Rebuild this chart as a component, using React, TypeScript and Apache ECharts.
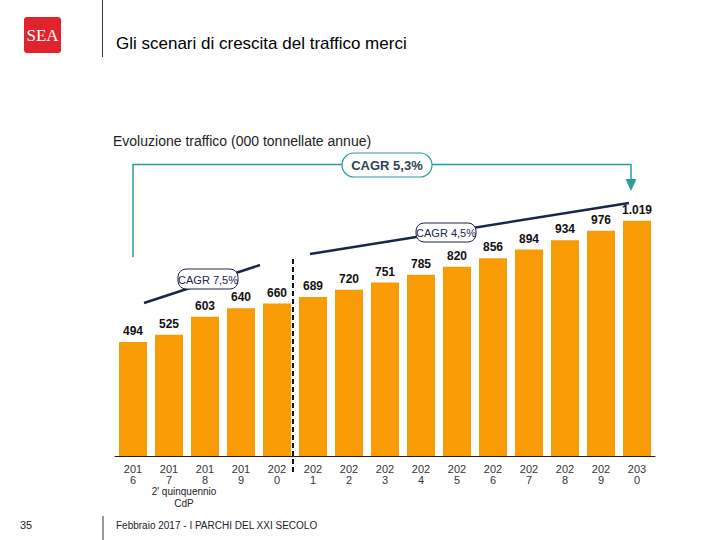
import React, { useEffect, useRef } from "react";
import * as echarts from "echarts";

const years = ["2016", "2017", "2018", "2019", "2020", "2021", "2022", "2023", "2024", "2025", "2026", "2027", "2028", "2029", "2030"];
const traffic = [494, 525, 603, 640, 660, 689, 720, 751, 785, 820, 856, 894, 934, 976, 1019];
const cagrLabels = ["CAGR 5,3%", "CAGR 7,5%", "CAGR 4,5%"];

const FONT = "'Liberation Sans', Arial, sans-serif";
const ORANGE = "#F99B05";
const TEAL = "#2A9C9C";
const NAVY = "#17264A";

function fmt(v: number): string {
  if (v >= 1000) {
    const th = Math.floor(v / 1000);
    const rest = String(v % 1000).padStart(3, "0");
    return th + "." + rest;
  }
  return String(v);
}

export default function App() {
  const ref = useRef<HTMLDivElement>(null);
  useEffect(() => {
    if (!ref.current) return;
    const chart = echarts.init(ref.current, null, { renderer: "svg" });
    const option: any = {
      animation: false,
      backgroundColor: "#ffffff",
      grid: { left: 115, right: 65, top: 202, bottom: 84 },
      xAxis: {
        type: "category",
        data: years.map((y) => y.slice(0, 3) + "\n" + y.slice(3)),
        axisLine: { lineStyle: { color: "#222", width: 1 } },
        axisTick: { show: false },
        axisLabel: { color: "#333", fontFamily: FONT, fontSize: 11, lineHeight: 11, margin: 7 },
      },
      yAxis: { type: "value", min: 0, max: 1100, show: false, splitLine: { show: false } },
      series: [
        {
          type: "bar",
          data: traffic,
          barWidth: 28,
          itemStyle: { color: ORANGE },
          label: {
            show: true,
            position: "top",
            distance: 5,
            formatter: (p: any) => fmt(p.value),
            fontFamily: FONT,
            fontWeight: "bold",
            fontSize: 12,
            color: "#111",
          },
        },
      ],
      graphic: [
        // logo
        { type: "rect", shape: { x: 24, y: 17, width: 37, height: 36, r: 3 }, style: { fill: "#E1242B" } },
        {
          type: "text",
          x: 42.5,
          y: 35,
          style: { text: "SEA", fill: "#fff", font: "17px 'Liberation Serif', serif", align: "center", verticalAlign: "middle" },
        },
        { type: "line", shape: { x1: 102.5, y1: 0, x2: 102.5, y2: 57 }, style: { stroke: "#333", lineWidth: 1 } },
        {
          type: "text",
          x: 116,
          y: 43,
          style: { text: "Gli scenari di crescita del traffico merci", fill: "#000", font: "17px " + FONT, verticalAlign: "middle" },
        },
        {
          type: "text",
          x: 113,
          y: 141,
          style: { text: "Evoluzione traffico (000 tonnellate annue)", fill: "#222", font: "14px " + FONT, verticalAlign: "middle" },
        },
        // teal bracket
        {
          type: "polyline",
          shape: { points: [[133, 257], [133, 164.5], [631, 164.5], [631, 180]] },
          style: { stroke: TEAL, lineWidth: 1.5, fill: "none" },
        },
        { type: "polygon", shape: { points: [[625.5, 179], [636.5, 179], [631, 191]] }, style: { fill: TEAL } },
        { type: "rect", shape: { x: 342, y: 153, width: 90, height: 24, r: 12 }, style: { fill: "#fff", stroke: TEAL, lineWidth: 1.2 } },
        {
          type: "text",
          x: 387,
          y: 165.5,
          style: { text: cagrLabels[0], fill: "#2B4450", font: "bold 13px " + FONT, align: "center", verticalAlign: "middle" },
        },
        // CAGR 7,5%
        { type: "line", shape: { x1: 144, y1: 303, x2: 260, y2: 265 }, style: { stroke: NAVY, lineWidth: 2.5 } },
        { type: "rect", shape: { x: 178, y: 269, width: 60, height: 20, r: 8 }, style: { fill: "#fff", stroke: NAVY, lineWidth: 1 } },
        {
          type: "text",
          x: 208,
          y: 279.5,
          style: { text: cagrLabels[1], fill: NAVY, font: "11px " + FONT, align: "center", verticalAlign: "middle" },
        },
        // CAGR 4,5%
        { type: "line", shape: { x1: 310, y1: 254, x2: 629, y2: 203 }, style: { stroke: NAVY, lineWidth: 2.5 } },
        { type: "rect", shape: { x: 416, y: 223, width: 60, height: 19, r: 8 }, style: { fill: "#fff", stroke: NAVY, lineWidth: 1 } },
        {
          type: "text",
          x: 446,
          y: 232.5,
          style: { text: cagrLabels[2], fill: NAVY, font: "11px " + FONT, align: "center", verticalAlign: "middle" },
        },
        // dashed separator
        {
          type: "line",
          shape: { x1: 293, y1: 259, x2: 293, y2: 473 },
          style: { stroke: "#111", lineWidth: 2, lineDash: [5, 3] },
        },
        {
          type: "text",
          x: 184,
          y: 491,
          style: { text: "2' quinquennio", fill: "#222", font: "10px " + FONT, align: "center", verticalAlign: "middle" },
        },
        {
          type: "text",
          x: 184,
          y: 503,
          style: { text: "CdP", fill: "#222", font: "10px " + FONT, align: "center", verticalAlign: "middle" },
        },
        // footer
        { type: "text", x: 20, y: 525, style: { text: "35", fill: "#222", font: "11px " + FONT, verticalAlign: "middle" } },
        { type: "line", shape: { x1: 103, y1: 516, x2: 103, y2: 540 }, style: { stroke: "#333", lineWidth: 1 } },
        {
          type: "text",
          x: 116,
          y: 525,
          style: { text: "Febbraio 2017 - I PARCHI DEL XXI SECOLO", fill: "#222", font: "10px " + FONT, verticalAlign: "middle" },
        },
      ],
    };
    chart.setOption(option);
    return () => chart.dispose();
  }, []);
  return <div ref={ref} style={{ position: "absolute", left: 0, top: 0, width: 720, height: 540 }} />;
}
